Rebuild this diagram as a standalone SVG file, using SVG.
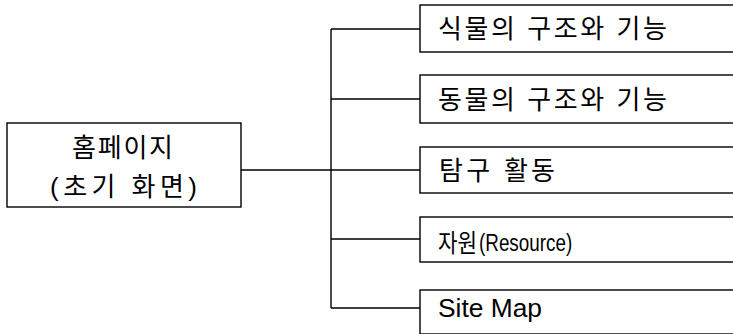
<svg xmlns="http://www.w3.org/2000/svg" width="733" height="334" viewBox="0 0 733 334">
<style>
.box{fill:#fff;stroke:#000;stroke-width:1.4}
.ln{fill:none;stroke:#000;stroke-width:1.4}
.t{font-family:"Liberation Sans","Noto Sans CJK KR",sans-serif;font-size:26px;fill:#000}
</style>
<rect width="733" height="334" fill="#fff"/>
<g id="connectors">
<path class="ln" d="M241 170H420M331 29V308M331 29H420M331 99H420M331 239H420M331 308H420"/>
</g>
<g id="home">
<rect class="box" x="7" y="123" width="234" height="84"/>
<text class="t" x="72" y="157" textLength="101" lengthAdjust="spacing">홈페이지</text>
<text class="t" x="50" y="196" textLength="147" lengthAdjust="spacing">(초기 화면)</text>
</g>
<g id="plant">
<rect class="box" x="420" y="5" width="330" height="47"/>
<text class="t" x="438" y="38" textLength="229" lengthAdjust="spacing">식물의 구조와 기능</text>
</g>
<g id="animal">
<rect class="box" x="420" y="75" width="330" height="48"/>
<text class="t" x="438" y="109" textLength="229" lengthAdjust="spacing">동물의 구조와 기능</text>
</g>
<g id="explore">
<rect class="box" x="420" y="147" width="330" height="46"/>
<text class="t" x="439" y="180" textLength="116" lengthAdjust="spacing">탐구 활동</text>
</g>
<g id="resource">
<rect class="box" x="420" y="217" width="330" height="45"/>
<text class="t" transform="translate(438 252) scale(0.85 1)" style="font-size:25px">자원</text>
<text class="t" transform="translate(479 251) scale(0.82 1)" style="font-size:23px">(Resource)</text>
</g>
<g id="sitemap">
<rect class="box" x="420" y="290" width="330" height="44"/>
<text class="t" x="438" y="317" style="font-size:25px" textLength="104" lengthAdjust="spacingAndGlyphs">Site Map</text>
</g>
</svg>
